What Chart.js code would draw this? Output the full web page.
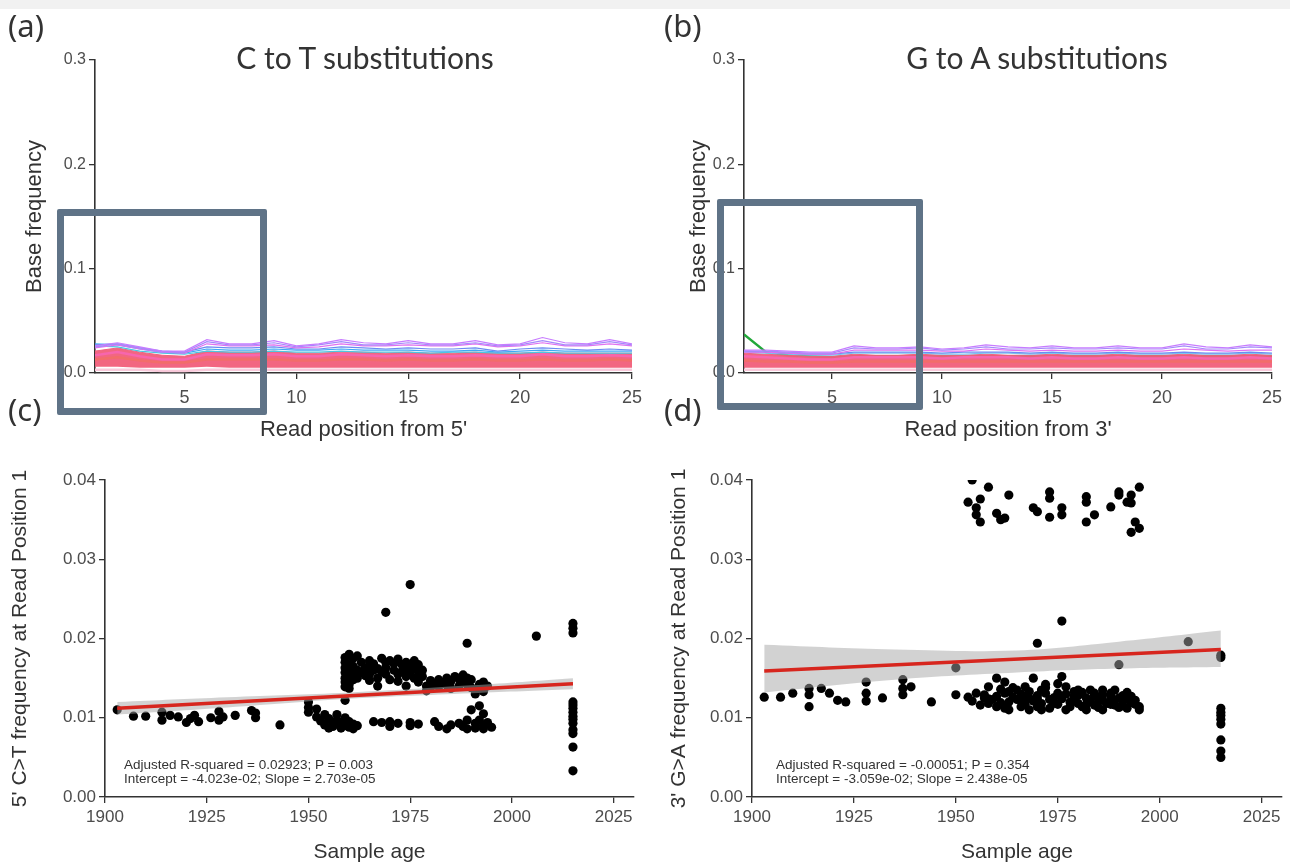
<!DOCTYPE html>
<html>
<head>
<meta charset="utf-8">
<script src="https://cdn.jsdelivr.net/npm/chart.js@4"></script>
<style>
html,body{margin:0;padding:0;background:#fff;}
body{width:1290px;height:867px;position:relative;overflow:hidden;font-family:"Liberation Sans",Arial,sans-serif;}
.topband{position:absolute;left:0;top:0;width:1290px;height:9px;background:#f1f1f1;}
canvas{position:absolute;}
.tag{position:absolute;font-family:"Noto Sans",sans-serif;font-size:31px;color:#333;line-height:1;}
.title{position:absolute;font-family:Lato,sans-serif;font-size:30px;color:#333;transform:translateX(-50%);white-space:nowrap;line-height:1;}
.note{position:absolute;font-size:13.5px;line-height:14px;color:#333;white-space:nowrap;}
.box{position:absolute;border:7px solid #5f7387;border-radius:2px;box-sizing:border-box;}
</style>
</head>
<body>
<div class="topband"></div>
<canvas id="chartA" width="660" height="420" style="left:0;top:32px"></canvas>
<canvas id="chartB" width="630" height="420" style="left:660px;top:32px"></canvas>
<canvas id="chartC" width="660" height="427" style="left:0;top:440px"></canvas>
<canvas id="chartD" width="630" height="427" style="left:660px;top:440px"></canvas>

<div class="tag" style="left:8px;top:10px">(a)</div>
<div class="tag" style="left:664px;top:10px">(b)</div>
<div class="tag" style="left:8px;top:394px">(c)</div>
<div class="tag" style="left:664px;top:394px">(d)</div>
<div class="title" style="left:365px;top:42px">C to T substitutions</div>
<div class="title" style="left:1037px;top:42px">G to A substitutions</div>
<div class="note" style="left:124px;top:758px">Adjusted R-squared = 0.02923; P = 0.003<br>Intercept = -4.023e-02; Slope = 2.703e-05</div>
<div class="note" style="left:776px;top:758px">Adjusted R-squared = -0.00051; P = 0.354<br>Intercept = -3.059e-02; Slope = 2.438e-05</div>
<div class="box" style="left:57px;top:209px;width:210px;height:206px"></div>
<div class="box" style="left:717px;top:199px;width:206px;height:211px"></div>

<script>
// read positions and axis ticks
const positions=[1,2,3,4,5,6,7,8,9,10,11,12,13,14,15,16,17,18,19,20,21,22,23,24,25];
const posTicks=[5,10,15,20,25];
const freqTicks=[0,0.1,0.2,0.3];

// (a) C to T, one line per sample group
const ctPurple  =[0.026,0.029,0.025,0.021,0.021,0.032,0.028,0.028,0.031,0.026,0.028,0.032,0.029,0.028,0.031,0.028,0.028,0.031,0.027,0.028,0.034,0.029,0.028,0.032,0.028];
const ctLavender=[0.025,0.028,0.024,0.020,0.020,0.030,0.027,0.027,0.029,0.025,0.027,0.030,0.027,0.027,0.029,0.027,0.027,0.029,0.026,0.027,0.031,0.027,0.027,0.030,0.027];
const ctOrchid  =[0.024,0.027,0.023,0.020,0.019,0.028,0.026,0.026,0.027,0.024,0.025,0.028,0.026,0.026,0.027,0.026,0.026,0.028,0.025,0.026,0.029,0.026,0.026,0.028,0.026];
const ctBlue    =[0.027,0.028,0.024,0.021,0.020,0.025,0.024,0.024,0.025,0.023,0.023,0.025,0.024,0.023,0.024,0.023,0.023,0.024,0.021,0.023,0.024,0.023,0.022,0.023,0.022];
const ctSky     =[0.028,0.027,0.023,0.020,0.019,0.023,0.022,0.022,0.023,0.022,0.022,0.023,0.022,0.022,0.022,0.021,0.021,0.022,0.020,0.021,0.022,0.021,0.021,0.021,0.021];
const ctCyan    =[0.026,0.025,0.021,0.019,0.018,0.021,0.020,0.020,0.021,0.020,0.020,0.021,0.020,0.020,0.020,0.019,0.020,0.020,0.019,0.019,0.020,0.019,0.019,0.019,0.019];
const ctHot     =[0.017,0.020,0.016,0.013,0.013,0.018,0.017,0.017,0.018,0.016,0.016,0.018,0.017,0.016,0.017,0.016,0.016,0.017,0.016,0.016,0.018,0.016,0.016,0.017,0.016];
const ctSalmon  =[0.013,0.015,0.012,0.010,0.010,0.013,0.013,0.013,0.013,0.012,0.012,0.013,0.013,0.012,0.013,0.012,0.012,0.013,0.012,0.012,0.013,0.012,0.012,0.013,0.012];
const ctMassHigh=[0.021,0.024,0.020,0.017,0.016,0.021,0.020,0.020,0.021,0.019,0.019,0.020,0.020,0.019,0.020,0.019,0.019,0.020,0.019,0.019,0.020,0.019,0.019,0.019,0.019];
const ctMassLow =[0.006,0.006,0.005,0.005,0.005,0.006,0.005,0.005,0.005,0.005,0.005,0.005,0.005,0.005,0.005,0.005,0.005,0.005,0.005,0.005,0.005,0.005,0.005,0.005,0.005];
const ctPale    =[0.003,0.003,0.003,0.002,0.002,0.003,0.003,0.003,0.003,0.003,0.003,0.003,0.003,0.003,0.003,0.003,0.003,0.003,0.003,0.003,0.003,0.003,0.003,0.003,0.003];

// (b) G to A
const gaPurple  =[0.022,0.022,0.021,0.020,0.020,0.026,0.024,0.024,0.025,0.023,0.024,0.027,0.025,0.024,0.026,0.024,0.024,0.026,0.024,0.024,0.028,0.025,0.024,0.027,0.025];
const gaLavender=[0.021,0.021,0.020,0.019,0.019,0.024,0.023,0.023,0.024,0.022,0.023,0.025,0.023,0.023,0.024,0.023,0.023,0.024,0.023,0.023,0.026,0.023,0.023,0.025,0.024];
const gaOrchid  =[0.020,0.020,0.019,0.018,0.018,0.022,0.022,0.022,0.022,0.021,0.021,0.023,0.022,0.021,0.022,0.021,0.021,0.022,0.021,0.021,0.023,0.022,0.021,0.022,0.022];
const gaBlue    =[0.021,0.020,0.019,0.018,0.018,0.020,0.020,0.020,0.020,0.019,0.020,0.020,0.020,0.019,0.020,0.019,0.019,0.020,0.019,0.019,0.020,0.019,0.019,0.020,0.019];
const gaSky     =[0.020,0.019,0.018,0.017,0.017,0.019,0.019,0.019,0.019,0.018,0.018,0.019,0.019,0.018,0.019,0.018,0.018,0.019,0.018,0.018,0.019,0.018,0.018,0.019,0.018];
const gaGreen   =[0.037,0.020,0.017,0.016,0.015,0.016,0.016,0.016,0.016,0.016,0.016,0.016,0.016,0.016,0.016,0.016,0.016,0.016,0.016,0.016,0.016,0.016,0.016,0.016,0.016];
const gaHot     =[0.016,0.015,0.014,0.013,0.013,0.015,0.015,0.015,0.015,0.014,0.015,0.015,0.015,0.014,0.015,0.014,0.014,0.015,0.014,0.014,0.015,0.014,0.014,0.015,0.014];
const gaSalmon  =[0.012,0.011,0.011,0.010,0.010,0.011,0.011,0.011,0.011,0.011,0.011,0.011,0.011,0.011,0.011,0.011,0.011,0.011,0.011,0.011,0.011,0.011,0.011,0.011,0.011];
const gaMassHigh=[0.019,0.018,0.017,0.016,0.016,0.018,0.017,0.017,0.018,0.017,0.017,0.018,0.017,0.017,0.018,0.017,0.017,0.018,0.017,0.017,0.018,0.017,0.017,0.018,0.017];
const gaMassLow =[0.005,0.005,0.005,0.005,0.005,0.005,0.005,0.005,0.005,0.005,0.005,0.005,0.005,0.005,0.005,0.005,0.005,0.005,0.005,0.005,0.005,0.005,0.005,0.005,0.005];
const gaPale    =[0.003,0.003,0.003,0.003,0.003,0.003,0.003,0.003,0.003,0.003,0.003,0.003,0.003,0.003,0.003,0.003,0.003,0.003,0.003,0.003,0.003,0.003,0.003,0.003,0.003];

// (c)/(d) scatter axes
const ageTicks=[1900,1925,1950,1975,2000,2025];
const rateTicks=[0,0.01,0.02,0.03,0.04];

// (c) 5' C>T at position 1 vs sample age
const ageC=[
 1903,1907,1910,1914,1914,1916,1918,1920,1921,1922,1923,1926,1928,1928,1929,1932,1936,1937,1937,1943,
 1950,1950,1950,1952,1952,1953,1954,1954,1955,1955,1956,1956,1957,1957,1958,1958,1959,1959,1959,1960,1960,1961,1961,1962,
 1959,1959,1959,1959,1959,1959,1959,1960,1960,1960,1960,1960,1960,1961,1961,1961,1961,1962,1962,1962,1963,1963,1964,1964,
 1965,1965,1965,1965,1966,1966,1967,1967,1967,1968,1968,1969,1969,1969,1970,1970,1971,1971,1972,1972,1972,1973,1973,
 1974,1974,1974,1974,1975,1975,1976,1976,1976,1977,1977,1977,1978,1978,1979,1979,
 1980,1980,1981,1982,1982,1983,1984,1984,1985,1985,1986,1987,1987,1988,1988,1989,1989,1990,1990,1991,1991,1992,1992,1993,1993,1994,
 1966,1968,1970,1970,1972,1975,1975,1977,1981,1982,1984,1985,1987,1988,1989,1989,1990,1991,1991,1992,1992,1993,1993,1993,1994,1995,
 1969,1975,1989,2006,
 2015,2015,2015,2015,2015,2015,2015,2015,2015,2015,2015,2015,2015,2015];
const ctFirst=[
 0.0110,0.0102,0.0102,0.0107,0.0097,0.0103,0.0101,0.0094,0.0099,0.0103,0.0095,0.0100,0.0108,0.0097,0.0101,0.0103,0.0109,0.0106,0.0100,0.0091,
 0.0120,0.0113,0.0107,0.0111,0.0101,0.0096,0.0104,0.0091,0.0099,0.0087,0.0094,0.0089,0.0104,0.0097,0.0092,0.0087,0.0122,0.0100,0.0090,0.0095,0.0088,0.0092,0.0086,0.0090,
 0.0176,0.0170,0.0163,0.0157,0.0150,0.0145,0.0139,0.0180,0.0167,0.0160,0.0153,0.0142,0.0137,0.0175,0.0165,0.0155,0.0148,0.0178,0.0160,0.0150,0.0170,0.0158,0.0163,0.0153,
 0.0172,0.0166,0.0155,0.0147,0.0168,0.0160,0.0162,0.0150,0.0140,0.0175,0.0158,0.0170,0.0163,0.0155,0.0172,0.0148,0.0168,0.0160,0.0174,0.0155,0.0146,0.0167,0.0159,
 0.0170,0.0162,0.0152,0.0140,0.0165,0.0157,0.0172,0.0163,0.0150,0.0167,0.0158,0.0145,0.0160,0.0152,0.0140,0.0134,
 0.0147,0.0138,0.0142,0.0148,0.0139,0.0144,0.0150,0.0141,0.0146,0.0137,0.0152,0.0149,0.0140,0.0154,0.0145,0.0150,0.0142,0.0148,0.0138,0.0135,0.0130,0.0142,0.0137,0.0145,0.0133,0.0140,
 0.0095,0.0094,0.0095,0.0089,0.0093,0.0094,0.0090,0.0092,0.0095,0.0089,0.0086,0.0091,0.0093,0.0089,0.0097,0.0086,0.0110,0.0093,0.0087,0.0115,0.0097,0.0105,0.0090,0.0086,0.0094,0.0088,
 0.0233,0.0268,0.0194,0.0203,
 0.0219,0.0213,0.0207,0.0120,0.0116,0.0112,0.0107,0.0102,0.0098,0.0093,0.0085,0.0080,0.0063,0.0033];
const fitAgeC=[1903,2015];
const fitC=[0.0112,0.0143];
const bandAgeC=[1903,1930,1960,1990,2015];
const bandLowC=[0.0104,0.0113,0.0124,0.0131,0.0136];
const bandHighC=[0.0120,0.0126,0.0132,0.0141,0.0150];

// (d) 3' G>A at position 1 vs sample age
const ageD=[
 1903,1907,1910,1914,1914,1914,1917,1919,1921,1923,1928,1928,1928,1932,1937,1937,1937,1939,1944,1950,1950,
 1953,1955,1957,1958,1958,1960,1960,1962,1962,1963,1965,1966,1967,1968,1969,1970,1971,1972,1973,1975,1976,1977,1978,1979,1980,1981,1982,1984,1984,1986,1986,1988,1989,1989,1990,1992,1995,1995,
 1954,1957,1958,1960,1961,1962,1963,1964,1966,1966,1967,1968,1969,1970,1971,1972,1973,1974,1975,1975,1977,1978,1979,1980,1981,1982,1983,1984,1985,1986,1987,1988,1988,1990,1991,1991,1992,1993,1993,1994,
 1956,1959,1961,1963,1964,1965,1967,1968,1970,1971,1972,1974,1976,1977,1979,1980,1982,1983,1985,1986,1988,1989,1991,1992,1994,
 1954,1958,1953,1956,1955,1955,1956,1960,1961,1962,1963,1969,1970,1973,1973,1973,1976,1976,1982,1982,1982,1984,1988,1990,1992,1993,1995,1994,1995,1993,1990,1993,
 1970,1976,1990,2007,2015,2015,
 2015,2015,2015,2015,2015,2015,2015,2015];
const gaFirst=[
 0.0126,0.0126,0.0131,0.0137,0.0129,0.0114,0.0137,0.0131,0.0122,0.0120,0.0145,0.0131,0.0121,0.0125,0.0148,0.0137,0.0129,0.0139,0.0120,0.0163,0.0129,
 0.0126,0.0131,0.0125,0.0139,0.0118,0.0150,0.0114,0.0131,0.0145,0.0120,0.0135,0.0114,0.0139,0.0125,0.0150,0.0114,0.0135,0.0142,0.0123,0.0131,0.0152,0.0139,0.0120,0.0127,0.0135,0.0114,0.0125,0.0131,0.0116,0.0135,0.0122,0.0129,0.0116,0.0135,0.0125,0.0112,0.0110,0.0114,
 0.0121,0.0129,0.0124,0.0127,0.0119,0.0112,0.0133,0.0126,0.0122,0.0130,0.0117,0.0133,0.0121,0.0128,0.0118,0.0131,0.0112,0.0125,0.0143,0.0117,0.0130,0.0114,0.0121,0.0128,0.0132,0.0117,0.0121,0.0128,0.0113,0.0129,0.0118,0.0125,0.0131,0.0113,0.0121,0.0128,0.0124,0.0119,0.0127,0.0122,
 0.0116,0.0123,0.0136,0.0110,0.0138,0.0123,0.0127,0.0110,0.0124,0.0110,0.0138,0.0118,0.0124,0.0110,0.0133,0.0118,0.0110,0.0135,0.0124,0.0110,0.0117,0.0122,0.0115,0.0132,0.0117,
 0.0400,0.0391,0.0372,0.0376,0.0365,0.0356,0.0347,0.0358,0.0350,0.0352,0.0381,0.0365,0.0360,0.0385,0.0377,0.0353,0.0356,0.0365,0.0379,0.0372,0.0347,0.0356,0.0366,0.0385,0.0372,0.0371,0.0391,0.0347,0.0339,0.0334,0.0381,0.0381,
 0.0194,0.0222,0.0167,0.0196,0.0179,0.0176,
 0.0112,0.0107,0.0103,0.0098,0.0092,0.0072,0.0058,0.0050];
const fitAgeD=[1903,2015];
const fitD=[0.0159,0.0186];
const bandAgeD=[1903,1935,1965,1990,2015];
const bandLowD=[0.0132,0.0148,0.0157,0.0162,0.0164];
const bandHighD=[0.0192,0.0186,0.0185,0.0196,0.0210];

const FONT='"Liberation Sans", Arial, Helvetica, sans-serif';
const pts=(xs,ys)=>xs.map((x,i)=>({x:x,y:ys[i]}));

function lineSet(values,color,width){
  return {type:'line',data:pts(positions,values),borderColor:color,borderWidth:width||1.2,pointRadius:0,tension:0,fill:false};
}

function xAxis(min,max,vals,fmt,h,title,tSize,tBottom,size,pad){
  return {type:'linear',min:min,max:max,
    afterBuildTicks:s=>{s.ticks=vals.map(v=>({value:v}));},
    afterFit:s=>{s.height=h;},
    grid:{display:true,drawOnChartArea:false,drawTicks:true,tickLength:6,color:'#333',lineWidth:1.3},
    border:{display:true,color:'#333',width:1.6},
    ticks:{color:'#4d4d4d',font:{family:FONT,size:size},padding:pad,maxRotation:0,autoSkip:false,callback:fmt},
    title:{display:true,text:title,color:'#333',font:{family:FONT,size:tSize},padding:{top:0,bottom:tBottom}}};
}
function yAxis(min,max,vals,fmt,w,title,tSize,tTop,size){
  return {type:'linear',min:min,max:max,
    afterBuildTicks:s=>{s.ticks=vals.map(v=>({value:v}));},
    afterFit:s=>{s.width=w;},
    grid:{display:true,drawOnChartArea:false,drawTicks:true,tickLength:6,color:'#333',lineWidth:1.3},
    border:{display:true,color:'#333',width:1.6},
    ticks:{color:'#4d4d4d',font:{family:FONT,size:size},padding:3,callback:fmt},
    title:{display:true,text:title,color:'#333',font:{family:FONT,size:tSize},padding:{top:tTop,bottom:0}}};
}
const baseOpts={responsive:false,animation:false,events:[],plugins:{legend:{display:false},tooltip:{enabled:false}}};

function profileChart(id,sets,xTitle,yW,padRight,yTitlePad){
  new Chart(document.getElementById(id),{
    type:'line',
    data:{datasets:sets},
    options:Object.assign({},baseOpts,{
      layout:{padding:{top:28,right:padRight,left:0,bottom:0}},
      scales:{
        x:xAxis(1,25,posTicks,v=>String(v),79,xTitle,22,9,18,8),
        y:yAxis(0,0.3,freqTicks,v=>v.toFixed(1),yW,'Base frequency',22,yTitlePad,16)
      }
    })
  });
}

function massSets(high,low){
  return [
    {type:'line',data:pts(positions,high),borderColor:'#f0627f',borderWidth:1,pointRadius:0,tension:0,fill:'+1',backgroundColor:'rgba(241,94,122,0.95)'},
    {type:'line',data:pts(positions,low),borderColor:'rgba(0,0,0,0)',borderWidth:0,pointRadius:0,tension:0,fill:false}
  ];
}

profileChart('chartA',[
  lineSet(ctPurple,'#c77cff'),lineSet(ctLavender,'#a58afa'),lineSet(ctOrchid,'#e070f0'),
  lineSet(ctBlue,'#6b8cf2'),lineSet(ctSky,'#3fa9f5'),lineSet(ctCyan,'#4cc7e0'),
  lineSet(ctHot,'#f766ad',2.5),lineSet(ctSalmon,'#f26d6a',2.5),lineSet(ctPale,'#f9cadb',2.5)
].concat(massSets(ctMassHigh,ctMassLow)),"Read position from 5'",95,28,22);

profileChart('chartB',[
  lineSet(gaPurple,'#c77cff'),lineSet(gaLavender,'#a58afa'),lineSet(gaOrchid,'#e070f0'),
  lineSet(gaBlue,'#6b8cf2'),lineSet(gaSky,'#7cc6ee'),
  lineSet(gaHot,'#f766ad',2.5),lineSet(gaSalmon,'#f26d6a',2.5),lineSet(gaPale,'#f9cadb',2.5)
].concat(massSets(gaMassHigh,gaMassLow),[lineSet(gaGreen,'#22a83a',2.5)]),"Read position from 3'",84,12,26);

function ageChart(id,ages,vals,fitAge,fit,bandAge,bandLow,bandHigh,yTitle,yW,padRight,yTitlePad){
  new Chart(document.getElementById(id),{
    type:'scatter',
    data:{datasets:[
      {type:'line',data:pts(fitAge,fit),borderColor:'#d7261e',borderWidth:3.5,pointRadius:0,fill:false},
      {type:'line',data:pts(bandAge,bandHigh),borderWidth:0,borderColor:'rgba(0,0,0,0)',pointRadius:0,tension:0.4,fill:'+1',backgroundColor:'rgba(165,165,165,0.5)'},
      {type:'line',data:pts(bandAge,bandLow),borderWidth:0,borderColor:'rgba(0,0,0,0)',pointRadius:0,tension:0.4,fill:false},
      {type:'scatter',data:pts(ages,vals),pointRadius:4.6,pointBackgroundColor:'#000',pointBorderWidth:0,showLine:false}
    ]},
    options:Object.assign({},baseOpts,{
      layout:{padding:{top:40,right:padRight,left:0,bottom:0}},
      scales:{
        x:xAxis(1900,2030,ageTicks,v=>String(v),70,'Sample age',21,2,17,4),
        y:yAxis(0,0.04,rateTicks,v=>v.toFixed(2),yW,yTitle,21,yTitlePad,17)
      }
    })
  });
}

ageChart('chartC',ageC,ctFirst,fitAgeC,fitC,bandAgeC,bandLowC,bandHighC,"5' C>T frequency at Read Position 1",105,26,8);
ageChart('chartD',ageD,gaFirst,fitAgeD,fitD,bandAgeD,bandLowD,bandHighD,"3' G>A frequency at Read Position 1",92,8,7);
</script>
</body>
</html>
